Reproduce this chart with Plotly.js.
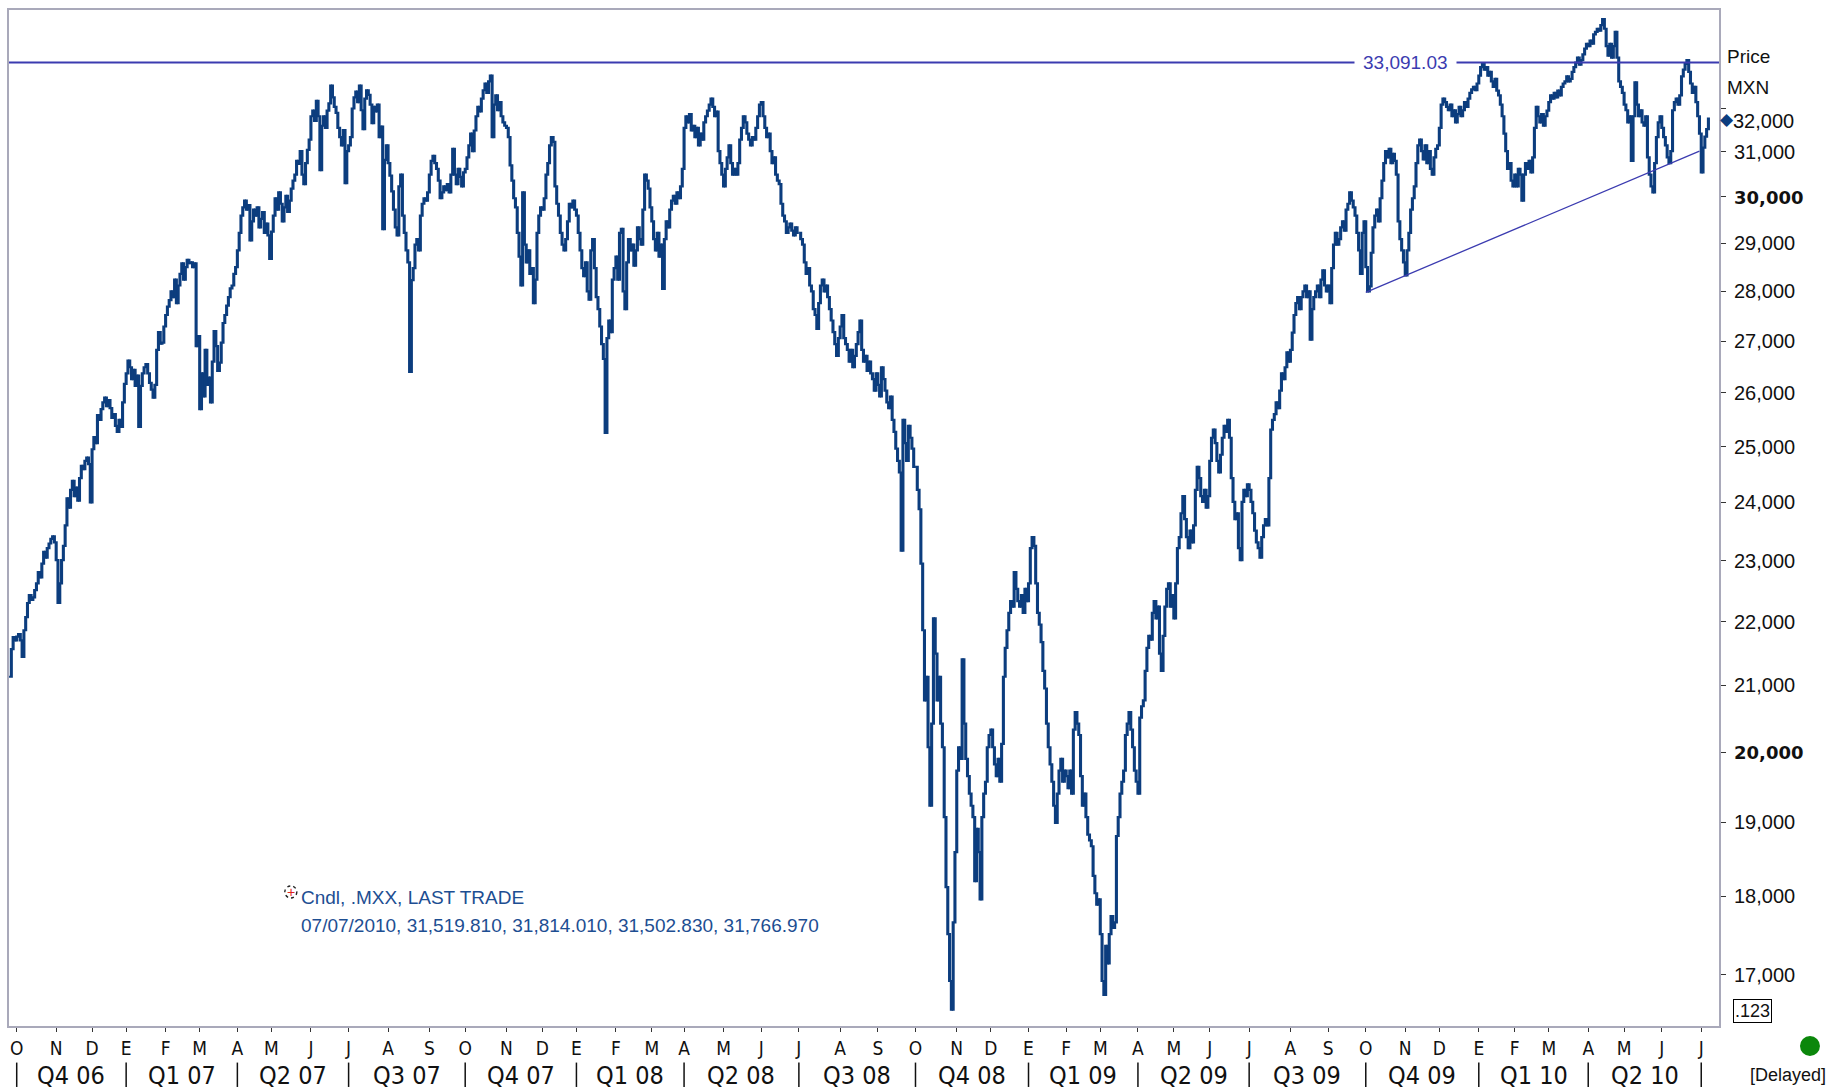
<!DOCTYPE html>
<html>
<head>
<meta charset="utf-8">
<script src="https://cdn.plot.ly/plotly-3.0.1.min.js"></script>
<style>
  html, body { margin: 0; padding: 0; background: #ffffff; }
  #chart { width: 1831px; height: 1089px; }
</style>
</head>
<body>
<div id="chart"></div>
<script>
// ---------------- DATA (daily closes of .MXX) ----------------
const closes2006 = [
  21130, 21560, 21750, 21700,                                                    // Sep (26-29)
  21760, 21800, 21700, 21440, 21860, 22070, 22300, 22430, 22350, 22390, 22510,
  22620, 22810, 22720, 22950, 23150, 23050, 23210, 23290, 23370, 23410, 23310,  // Oct
  23010, 22300, 22620, 23010, 23250, 23600, 24070, 23910, 24220, 24380, 24110,
  24260, 24030, 24430, 24650, 24590, 24740, 24800, 24680, 24000,                // Nov
  24950, 25170, 25060, 25580, 25490, 25690, 25820, 25910, 25750, 25860, 25710,
  25530, 25600, 25380, 25270, 25490, 25360, 25820, 26170                        // Dec
];
const closes2007 = [
  26370, 26620, 26490, 26260, 26440, 26130, 26330, 25360, 26130, 26370, 26490,
  26550, 26370, 26190, 26060, 25910, 26150, 26830, 27180, 26950, 26970, 27290,  // Jan
  27520, 27690, 27820, 28000, 27880, 28240, 27760, 28120, 28360, 28580, 28240,
  28500, 28650, 28580, 28600, 28500, 28580, 26900, 27100,                       // Feb
  25690, 26370, 25930, 26830, 26150, 26290, 25820, 26600, 27200, 26900, 26420,
  26580, 26970, 27360, 27520, 27710, 27880, 28060, 28120, 28360, 28500,         // Mar
  28850, 29220, 29590, 29770, 29920, 29720, 29820, 29060, 29470, 29720, 29590,
  29770, 29340, 29520, 29670, 29220, 29420, 29170, 28670,                       // Apr
  29250, 29590, 29970, 29720, 30100, 29850, 29470, 29770, 30020, 29670, 29920,
  30180, 30360, 30490, 30800, 30730, 31020, 30490, 30280, 30750, 31050, 31280,  // May
  31820, 31950, 31710, 32180, 31820, 30590, 31600, 31820, 31550, 31950, 32120,
  32540, 32260, 32040, 31900, 31550, 31340, 31150, 31500, 30300, 31020,         // Jun
  31150, 31340, 32000, 32260, 32400, 32150, 32540, 31960, 31520, 32230, 32430,
  32320, 32090, 31660, 32040, 31930, 32090, 31340, 31580, 29300, 30820, 31150,  // Jul
  30750, 30470, 30120, 29720, 29340, 29170, 30230, 30490, 29590, 29220, 28850,
  28600, 26400, 28230, 28480, 28970, 29090, 28850, 29590, 29850, 29970, 29920,
  30100,                                                                        // Aug
  30490, 30800, 30910, 30750, 30620, 30360, 29970, 30100, 30230, 30150, 30280,
  30100, 30490, 31070, 30490, 30280, 30620, 30440, 30230, 30540,                // Sep
  30620, 30880, 31150, 31420, 31020, 31490, 31820, 32040, 31930, 32230, 32430,
  32590, 32370, 32640, 32780, 31340, 32090, 32310, 31960, 32150, 31820, 31680,
  31600,                                                                        // Oct
  31550, 31340, 30700, 30360, 29970, 29770, 29220, 28720, 28120, 30100, 28970,
  28600, 28850, 28360, 28480, 27760, 28240, 29220, 29590, 29770,                // Nov
  29720, 29970, 30490, 30750, 31150, 31340, 31230, 30230, 29850, 29590, 29220,
  28970, 28850, 29090, 29470, 29850, 29770, 29920, 29720                        // Dec
];
const closes2008 = [
  29590, 29220, 28850, 28480, 28310, 28600, 28000, 27830, 28850, 29090, 28480,
  27880, 27640, 27290, 26940, 26650, 25250, 27060, 27410, 27180, 28240, 28480,  // Jan
  28720, 28240, 29220, 29310, 28000, 27640, 28600, 29090, 28850, 28970, 28530,
  28850, 29340, 29090, 28970, 29720, 30490, 30360, 30180, 29770,                // Feb
  29470, 29090, 28850, 29220, 28720, 28970, 28050, 29090, 29470, 29340, 29720,
  29920, 30020, 29850, 30100, 29970, 30230, 30620,                              // Mar
  31550, 31820, 31680, 31870, 31490, 31600, 31340, 31550, 31150, 31420, 31280,
  31680, 31820, 31950, 32090, 32230, 32040, 31820, 31930, 31020, 30750, 30490,  // Apr
  30230, 30620, 30880, 31150, 30750, 30490, 30620, 30490, 30750, 31280, 31550,
  31820, 31680, 31420, 31280, 31150, 31340, 31280, 31550, 31820, 32090,         // May
  32150, 31820, 31550, 31340, 31420, 31020, 30750, 30880, 30490, 30360, 30280,
  29850, 29590, 29470, 29220, 29340, 29420, 29270, 29170, 29340, 29220,         // Jun
  29220, 29090, 28970, 28600, 28360, 28480, 28120, 28000, 27640, 27520, 27240,
  27760, 28120, 28240, 28000, 28120, 27880, 27640, 27410, 27180, 26940, 26710,
  27060,                                                                        // Jul
  27290, 27520, 27060, 26940, 26830, 26600, 26830, 26490, 26710, 26940, 27180,
  27410, 26830, 26600, 26710, 26420, 26600, 26370, 26260, 26040, 26370,         // Aug
  26150, 25930, 26490, 26260, 26040, 25820, 25710, 25930, 25490, 25270, 24960,
  24740, 24530, 23170, 25490, 25060, 24740, 25380, 25160, 24960, 24630,         // Sep
  24630, 24220, 23880, 22950, 21860, 20770, 21130, 20070, 19230, 20420, 22050,
  21490, 20770, 21130, 20420, 20070, 19070, 18120, 17510, 16920, 16570, 17660,
  18590,                                                                        // Oct
  19730, 20070, 19900, 21400, 20420, 19900, 19650, 19400, 19230, 19070, 18200,
  18910, 18590, 17960, 19070, 19400, 19570, 20070, 20250,                       // Nov
  20330, 20070, 19820, 19650, 19900, 19570, 20120, 21130, 21580, 21860, 22140,
  22330, 22240, 22810, 22530, 22330, 22240, 22430, 22140, 22530, 22330          // Dec
];
const closes2009 = [
  22620, 23210, 23400, 23250, 22620, 22140, 21950, 21670, 21220, 20950, 20420,
  20070, 19820, 19570, 19230, 18990, 19400, 19730, 19900, 19570, 19730,         // Jan
  19650, 19480, 19730, 19400, 20330, 20590, 20420, 20250, 19650, 19230, 19400,
  19070, 18830, 18750, 18670, 18270, 18040, 17890, 17960,                       // Feb
  17510, 16920, 16750, 17360, 17140, 17510, 17740, 17590, 17660, 18810, 19070,
  19400, 19570, 19730, 20250, 20420, 20590, 20330, 20070, 19730, 19570,         // Mar
  19400, 20510, 20680, 20770, 21220, 21580, 21770, 21710, 22140, 22330, 22050,
  22240, 21490, 21220, 21770, 22240, 22530, 22620, 22240, 22430,                // Apr
  22050, 22620, 23210, 23400, 23810, 24110, 23710, 23400, 23210, 23510, 23310,
  23600, 24220, 24630, 24430, 24110, 24010, 24220, 23910, 24110,                // May
  24740, 25160, 25310, 25060, 24740, 24530, 24850, 25160, 25380, 25270, 25490,
  25160, 24430, 24010, 23710, 23810, 23210, 23010, 24010, 24220, 24110, 24320,  // Jun
  24220, 24010, 23810, 23510, 23310, 23210, 23050, 23400, 23600, 23710, 23600,
  24430, 25310, 25490, 25600, 25820, 25710, 26040, 26370, 26260, 26490, 26780,
  26600,                                                                        // Jul
  26830, 27170, 27520, 27760, 27880, 27640, 27880, 28000, 28120, 27880, 28000,
  27030, 27640, 27880, 28000, 28120, 27880, 28240, 28430, 28120, 28000,         // Aug
  28120, 27760, 28480, 28970, 29220, 28970, 29090, 29340, 29470, 29270, 29720,
  29850, 30100, 29920, 29770, 29590, 29220, 28850, 28360, 29220, 29470,         // Sep
  28500, 28000, 28100, 28800, 29340, 29590, 29720, 29470, 29970, 30360, 30750,
  31020, 30880, 31070, 30750, 30960, 30800, 30490, 29470, 29090, 28850, 28600,  // Oct
  28330, 28850, 29220, 29720, 29970, 30230, 30750, 31150, 31280, 31020, 30830,
  31150, 30750, 31020, 30620, 30490, 30880, 31070, 31150,                       // Nov
  31550, 32090, 32230, 32150, 32040, 31960, 32090, 31820, 31960, 31680, 31870,
  32040, 31820, 31960, 32150, 32040, 32230, 32370, 32450, 32510, 32430, 32590   // Dec
];
const closes2010 = [
  32780, 32980, 33060, 32920, 32980, 32780, 32870, 32640, 32510, 32700, 32420,
  32310, 32090, 31820, 31420, 31020, 30620, 30750, 30360, 30230,                // Jan
  30490, 30230, 30620, 30490, 29920, 30490, 30750, 30620, 30800, 30540, 30880,
  31550, 32040, 31820, 31680, 31870, 31600, 31820, 31950,                       // Feb
  32150, 32310, 32230, 32370, 32260, 32420, 32310, 32510, 32590, 32640, 32760,
  32640, 32700, 32870, 32980, 33090, 33210, 33040, 33150, 33290, 33430, 33550,  // Mar
  33490, 33630, 33550, 33780, 33840, 33920, 33870, 34010, 34160, 33920, 33490,
  33260, 33550, 33210, 33490, 33840, 33210, 32640, 32510, 32370,                // Apr
  32090, 31960, 31680, 31820, 30800, 31820, 32620, 32090, 31820, 31960, 31680,
  31600, 31820, 30880, 30490, 30230, 30100, 30750, 31340, 31680, 31820,         // May
  31550, 31340, 31150, 30880, 30750, 31020, 31960, 32150, 32230, 32090, 32310,
  32760, 32920, 33060, 33150, 32870, 32590, 32370, 32510, 32150, 31820, 31420,  // Jun
  30540, 31100, 31350, 31519.81, 31766.97                                       // Jul 1-7
];

// Mexican exchange holidays inside the period (no session on these weekdays)
const holidays = [
  '2006-11-02','2006-11-20','2006-12-12','2006-12-25',
  '2007-01-01','2007-02-05','2007-03-19','2007-04-05','2007-04-06','2007-05-01',
  '2007-11-02','2007-11-19','2007-12-12','2007-12-25',
  '2008-01-01','2008-02-04','2008-03-17','2008-03-20','2008-03-21','2008-05-01',
  '2008-09-16','2008-11-17','2008-12-12','2008-12-25',
  '2009-01-01','2009-02-02','2009-03-16','2009-04-09','2009-04-10','2009-05-01',
  '2009-09-16','2009-11-02','2009-11-16','2009-12-25',
  '2010-01-01','2010-02-01','2010-03-15','2010-04-01','2010-04-02'
];
const firstSession = '2006-09-26';

// Spanish month initials (Enero ... Diciembre)
const monthLetters = ['E','F','M','A','M','J','J','A','S','O','N','D'];
const priceTicks = [17000,18000,19000,20000,21000,22000,23000,24000,25000,26000,27000,28000,29000,30000,31000,32000];
const boldTicks = [20000, 30000];

const resistanceLevel = 33091.03;
const trendDates  = ['2009-10-01', '2010-06-30'];
const trendValues = [27980, 31020];

const legendLine1 = 'Cndl, .MXX, LAST TRADE';
const legendLine2 = '07/07/2010, 31,519.810, 31,814.010, 31,502.830, 31,766.970';

// ---------------- BUILD ----------------
const closes = [].concat(closes2006, closes2007, closes2008, closes2009, closes2010);
const dates = [];
{
  const p = firstSession.split('-').map(Number);
  const d = new Date(Date.UTC(p[0], p[1] - 1, p[2]));
  while (dates.length < closes.length) {
    const dow = d.getUTCDay();
    const s = d.toISOString().slice(0, 10);
    if (dow !== 0 && dow !== 6 && holidays.indexOf(s) < 0) dates.push(s);
    d.setUTCDate(d.getUTCDate() + 1);
  }
}
const opens = closes.map((c, i) => i === 0 ? c : closes[i - 1]);
const highs = closes.map((c, i) => Math.max(c, opens[i]));
const lows  = closes.map((c, i) => Math.min(c, opens[i]));
const lastClose = closes[closes.length - 1];

const monthStarts = [];
for (let i = 1; i < dates.length; i++) {
  if (dates[i].slice(5, 7) !== dates[i - 1].slice(5, 7)) monthStarts.push(i);
}
const xTickVals = monthStarts.map(i => dates[i]);
const xTickText = monthStarts.map(i => monthLetters[+dates[i].slice(5, 7) - 1]);
const quarterStarts = monthStarts.filter(i => [1, 4, 7, 10].indexOf(+dates[i].slice(5, 7)) >= 0);

const fmt = v => v.toLocaleString('en-US');
const yTickText = priceTicks.map(v => {
  if (v === 32000) return '';
  if (boldTicks.indexOf(v) >= 0) return '<span style="font-family:DejaVu Sans;font-weight:bold;font-size:18px">' + fmt(v) + '</span>';
  return fmt(v);
});

const BLUE = '#0c3d7e';
const LINE = '#3b3bb0';
const FONT = 'Liberation Sans, Arial, sans-serif';
const NARROW = 'Liberation Sans Narrow, DejaVu Sans Condensed, Arial Narrow, sans-serif';

const traces = [
  {
    type: 'candlestick', x: dates, open: opens, high: highs, low: lows, close: closes,
    xaxis: 'x', yaxis: 'y', whiskerwidth: 0,
    increasing: { line: { color: BLUE, width: 2.2 }, fillcolor: BLUE },
    decreasing: { line: { color: BLUE, width: 2.2 }, fillcolor: BLUE },
    hoverinfo: 'skip'
  },
  {
    type: 'scatter', mode: 'lines', x: [0, 1], y: [resistanceLevel, resistanceLevel],
    xaxis: 'x2', yaxis: 'y', line: { color: LINE, width: 2 }, hoverinfo: 'skip'
  },
  {
    type: 'scatter', mode: 'lines', x: trendDates, y: trendValues,
    xaxis: 'x', yaxis: 'y', line: { color: LINE, width: 1.3 }, hoverinfo: 'skip'
  }
];

const annotations = [
  { xref: 'paper', yref: 'y', x: 0.8169, y: Math.log10(resistanceLevel), xanchor: 'center', yanchor: 'middle',
    text: '33,091.03', showarrow: false, bgcolor: '#ffffff', borderpad: 8,
    font: { family: FONT, size: 19, color: LINE } },
  { xref: 'paper', yref: 'paper', x: 1.0035, y: 0.9542, xanchor: 'left', yanchor: 'middle', text: 'Price',
    showarrow: false, font: { family: FONT, size: 19, color: '#111' } },
  { xref: 'paper', yref: 'paper', x: 1.0035, y: 0.9237, xanchor: 'left', yanchor: 'middle', text: 'MXN',
    showarrow: false, font: { family: FONT, size: 19, color: '#111' } },
  { xref: 'paper', yref: 'y', x: 1, y: Math.log10(32000), xanchor: 'left', yanchor: 'middle', xshift: 12,
    yshift: -12, text: '32,000', showarrow: false, font: { family: FONT, size: 20, color: '#111' } },
  { xref: 'paper', yref: 'y', x: 1.0048, y: Math.log10(lastClose), xanchor: 'center', yanchor: 'middle',
    text: '\u25C6', showarrow: false, font: { family: 'DejaVu Sans, sans-serif', size: 17, color: BLUE } },
  { xref: 'paper', yref: 'paper', x: 1.0193, y: 0.0148, xanchor: 'center', yanchor: 'middle', text: '.123',
    showarrow: false, bordercolor: '#000', borderwidth: 1, borderpad: 1, bgcolor: '#fff',
    font: { family: FONT, size: 18, color: '#111' } },
  { xref: 'paper', yref: 'paper', x: 1.0406, y: -0.0485, xanchor: 'center', yanchor: 'middle', text: '[Delayed]',
    showarrow: false, font: { family: FONT, size: 18, color: '#111' } },
  { xref: 'paper', yref: 'paper', x: 0.1648, y: 0.1319, xanchor: 'center', yanchor: 'middle', text: '+',
    showarrow: false, font: { family: FONT, size: 14, color: '#e02020' } },
  { xref: 'paper', yref: 'paper', x: 0.1695, y: 0.1260, xanchor: 'left', yanchor: 'middle', text: legendLine1,
    showarrow: false, font: { family: FONT, size: 19, color: '#1d4e92' } },
  { xref: 'paper', yref: 'paper', x: 0.1695, y: 0.0985, xanchor: 'left', yanchor: 'middle', text: legendLine2,
    showarrow: false, font: { family: FONT, size: 19, color: '#1d4e92' } }
];

const shapes = [
  { type: 'circle', xref: 'paper', yref: 'paper', xsizemode: 'pixel', ysizemode: 'pixel',
    xanchor: 1.0532, yanchor: -0.0197, x0: -10, x1: 10, y0: -10, y1: 10,
    fillcolor: '#0b870b', line: { width: 0 } },
  { type: 'circle', xref: 'paper', yref: 'paper', xsizemode: 'pixel', ysizemode: 'pixel',
    xanchor: 0.1648, yanchor: 0.1319, x0: -6, x1: 6, y0: -6, y1: 6,
    line: { color: '#222', width: 1.4, dash: 'dot' } }
];

for (let k = 0; k < quarterStarts.length; k++) {
  const i0 = quarterStarts[k];
  shapes.push({ type: 'line', xref: 'x', yref: 'paper', x0: i0, x1: i0, y0: -0.036, y1: -0.060,
                line: { color: '#111', width: 1.5 } });
  if (k < quarterStarts.length - 1) {
    const m = +dates[i0].slice(5, 7);
    const q = Math.floor((m - 1) / 3) + 1;
    annotations.push({
      xref: 'x', yref: 'paper', x: (i0 + quarterStarts[k + 1]) / 2, y: -0.0483,
      xanchor: 'center', yanchor: 'middle', showarrow: false,
      text: 'Q' + q + ' ' + dates[i0].slice(2, 4),
      font: { family: NARROW, size: 25, color: '#111' }
    });
  }
}

const layout = {
  width: 1831, height: 1089,
  margin: { l: 9, r: 112, t: 10, b: 63, pad: 0 },
  paper_bgcolor: '#ffffff', plot_bgcolor: '#ffffff',
  showlegend: false, hovermode: false,
  font: { family: FONT, size: 17, color: '#111' },
  xaxis: {
    type: 'category', range: [-0.3, 952.9], fixedrange: true,
    rangeslider: { visible: false },
    tickmode: 'array', tickvals: xTickVals, ticktext: xTickText,
    ticks: 'outside', ticklen: 4, tickwidth: 1, tickcolor: '#333',
    ticklabelstandoff: 0,
    tickfont: { family: NARROW, size: 19, color: '#111' },
    showgrid: false, zeroline: false,
    showline: true, mirror: true, linecolor: '#a9a9ba', linewidth: 2
  },
  xaxis2: { overlaying: 'x', anchor: 'y', range: [0, 1], visible: false, fixedrange: true },
  yaxis: {
    type: 'log', side: 'right', range: [4.21412, 4.53640], fixedrange: true,
    tickmode: 'array', tickvals: priceTicks, ticktext: yTickText,
    ticks: 'outside', ticklen: 5, tickwidth: 1, tickcolor: '#333',
    ticklabelstandoff: 4,
    tickfont: { family: FONT, size: 20, color: '#111' },
    showgrid: false, zeroline: false,
    showline: true, mirror: true, linecolor: '#a9a9ba', linewidth: 2
  },
  annotations: annotations,
  shapes: shapes
};

Plotly.newPlot('chart', traces, layout, { staticPlot: true, displayModeBar: false });
</script>
</body>
</html>
